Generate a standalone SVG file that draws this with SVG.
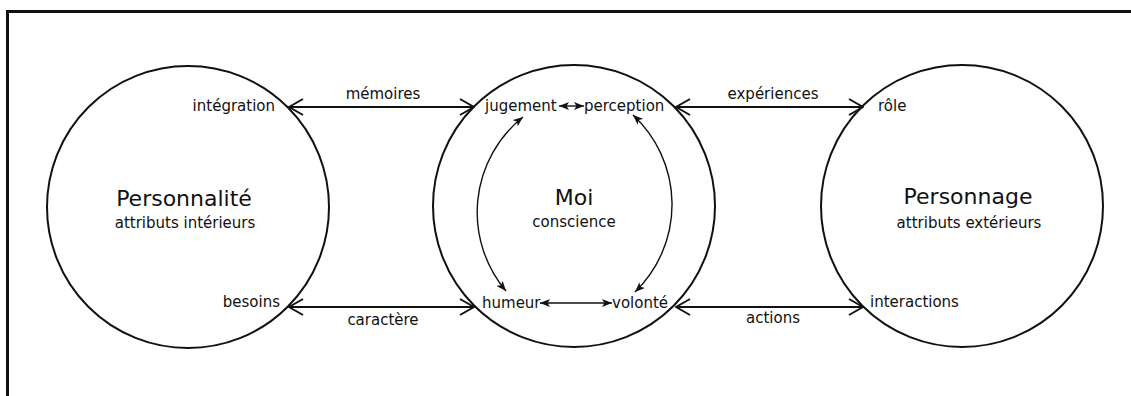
<svg xmlns="http://www.w3.org/2000/svg" width="1131" height="396" viewBox="0 0 1131 396">
<style>
text{font-family:"DejaVu Sans","Liberation Sans",sans-serif;fill:#111}
.big{font-size:22px}
.sm{font-size:15px}
.node{fill:#fff;stroke:#111;stroke-width:2}
.conn{stroke:#111;stroke-width:2;fill:none}
.inner{stroke:#111;stroke-width:1.4;fill:none}
</style>
<defs>
<marker id="open" viewBox="0 0 16 18" refX="15" refY="9" markerWidth="16" markerHeight="18" markerUnits="userSpaceOnUse" orient="auto-start-reverse">
<path d="M1,1 L15,9 L1,17" fill="none" stroke="#111" stroke-width="2"/>
</marker>
<marker id="fill" viewBox="0 0 10 8" refX="10" refY="4" markerWidth="10" markerHeight="8" markerUnits="userSpaceOnUse" orient="auto-start-reverse">
<path d="M0,0 L10,4 L0,8 L2.5,4 Z" fill="#111"/>
</marker>
</defs>
<rect x="0" y="0" width="1131" height="396" fill="#fff"/>
<rect x="7.5" y="11.5" width="1130" height="400" fill="none" stroke="#111" stroke-width="3"/>
<g id="personnalite">
<circle class="node" cx="188" cy="207" r="141"/>
<text class="big" x="184" y="206" text-anchor="middle">Personnalité</text>
<text class="sm" x="185" y="228" text-anchor="middle">attributs intérieurs</text>
<text class="sm" x="275" y="111" text-anchor="end">intégration</text>
<text class="sm" x="280" y="307" text-anchor="end">besoins</text>
</g>
<g id="moi">
<circle class="node" cx="574" cy="206" r="141"/>
<text class="big" x="574" y="205" text-anchor="middle">Moi</text>
<text class="sm" x="574" y="227" text-anchor="middle">conscience</text>
<text class="sm" x="485" y="111">jugement</text>
<text class="sm" x="584" y="111">perception</text>
<text class="sm" x="482" y="308">humeur</text>
<text class="sm" x="612" y="308">volonté</text>
</g>
<g id="personnage">
<circle class="node" cx="962" cy="206" r="141"/>
<text class="big" x="968" y="204" text-anchor="middle">Personnage</text>
<text class="sm" x="969" y="228" text-anchor="middle">attributs extérieurs</text>
<text class="sm" x="878" y="111">rôle</text>
<text class="sm" x="870" y="307">interactions</text>
</g>
<g id="connectors">
<line class="conn" x1="289" y1="107" x2="474" y2="107" marker-start="url(#open)" marker-end="url(#open)"/>
<line class="conn" x1="676" y1="107" x2="863" y2="107" marker-start="url(#open)" marker-end="url(#open)"/>
<line class="conn" x1="289" y1="307" x2="474" y2="307" marker-start="url(#open)" marker-end="url(#open)"/>
<line class="conn" x1="676" y1="307" x2="863" y2="307" marker-start="url(#open)" marker-end="url(#open)"/>
<line class="inner" x1="559" y1="106" x2="584" y2="106" marker-start="url(#fill)" marker-end="url(#fill)"/>
<line class="inner" x1="540" y1="303" x2="612" y2="303" marker-start="url(#fill)" marker-end="url(#fill)"/>
<path class="inner" d="M523,117 A122,122 0 0 0 506,291" marker-start="url(#fill)" marker-end="url(#fill)"/>
<path class="inner" d="M633,115 A122,122 0 0 1 635,292" marker-start="url(#fill)" marker-end="url(#fill)"/>
<text class="sm" x="383" y="99" text-anchor="middle">mémoires</text>
<text class="sm" x="773" y="99" text-anchor="middle">expériences</text>
<text class="sm" x="383" y="325" text-anchor="middle">caractère</text>
<text class="sm" x="773" y="323" text-anchor="middle">actions</text>
</g>
</svg>
